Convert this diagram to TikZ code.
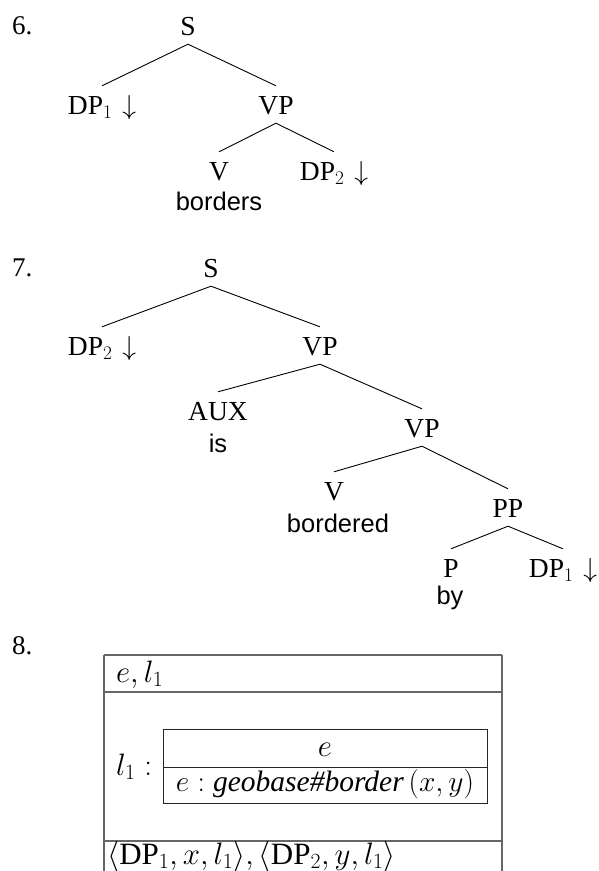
\RequirePackage{fix-cm}
\documentclass[tikz,border=0pt]{standalone}
\usepackage[no-math]{fontspec}
\setmainfont{Liberation Serif}
\setsansfont{Liberation Sans}
\newcommand{\DPx}{\textrm{DP}}
\newcommand{\darr}{\hspace{3pt}$\downarrow$}
\begin{document}
\begin{tikzpicture}[x=1pt,y=-1pt,
  lab/.style={font=\fontsize{27.5}{32}\selectfont, inner sep=0pt, anchor=base, text height=28pt, text depth=9pt},
  word/.style={font=\sffamily\fontsize{25.5}{30}\selectfont, inner sep=0pt, anchor=base},
  num/.style={font=\fontsize{27}{30}\selectfont, inner sep=0pt, anchor=base west},
  edge/.style={line width=0.9pt, black},
  outer/.style={line width=1.5pt, black!60},
  inner/.style={line width=1pt, black!85},
  boxtxt/.style={font=\fontsize{31}{36}\selectfont, inner sep=0pt}]
\useasboundingbox (0,0) rectangle (598,871);
\clip (0,0) rectangle (598,871);

% ---- 6 ----
\node[num] (n6) at (12,34) {6.};
\node[lab] (s6) at (188,35) {S};
\node[lab] (dpa6) at (102,114) {DP$_1$ \darr};
\node[lab] (vp6) at (276,114) {VP};
\node[lab] (v6) at (219,180) {V};
\node[lab] (dpb6) at (334,180) {DP$_2$ \darr};
\node[word] (w6) at (219,210) {borders};
\draw[edge] (s6.south) -- (dpa6.north);
\draw[edge] (s6.south) -- (vp6.north);
\draw[edge] (vp6.south) -- (v6.north);
\draw[edge] (vp6.south) -- (dpb6.north);

% ---- 7 ----
\node[num] (n7) at (12,276) {7.};
\node[lab] (s7) at (211,277) {S};
\node[lab] (dpb7) at (102,355) {DP$_2$ \darr};
\node[lab] (vpa7) at (320,355) {VP};
\node[lab] (aux7) at (218,420) {AUX};
\node[word] (is7) at (218,452) {is};
\node[lab] (vpb7) at (422,437) {VP};
\node[lab] (v7) at (334,500) {V};
\node[word] (w7) at (338,532) {bordered};
\node[lab] (pp7) at (508,517) {PP};
\node[lab] (p7) at (451,577) {P};
\node[word] (by7) at (450,604) {by};
\node[lab] (dpa7) at (563,577) {DP$_1$ \darr};
\draw[edge] (s7.south) -- (dpb7.north);
\draw[edge] (s7.south) -- (vpa7.north);
\draw[edge] (vpa7.south) -- (aux7.north);
\draw[edge] (vpa7.south) -- (vpb7.north);
\draw[edge] (vpb7.south) -- (v7.north);
\draw[edge] (vpb7.south) -- (pp7.north);
\draw[edge] (pp7.south) -- (p7.north);
\draw[edge] (pp7.south) -- (dpa7.north);

% ---- 8 ----
\node[num] (n8) at (12,654) {8.};
\draw[outer] (104,655) -- (502,655);
\draw[outer] (104,655) -- (104,880);
\draw[outer] (502,655) -- (502,880);
\draw[outer] (104,692) -- (502,692);
\draw[outer] (104,841) -- (502,841);
\node[boxtxt, anchor=base west] (univ) at (116,682) {$e, l_1$};
\node[boxtxt, anchor=base west] (lab1) at (116,775) {$l_1:$};
\draw[inner] (163,729) rectangle (487,803);
\draw[inner] (163,767) -- (487,767);
\node[boxtxt, anchor=base] (ref) at (325,756) {$e$};
\node[boxtxt, font=\fontsize{29.5}{34}\selectfont, anchor=base] (cond) at (325,791) {$e:\textit{geobase\#border}\,(x,y)$};
\node[boxtxt, anchor=base west] (subst) at (107,864) {$\langle\DPx_1, x, l_1\rangle, \langle\DPx_2, y, l_1\rangle$};
\end{tikzpicture}
\end{document}
